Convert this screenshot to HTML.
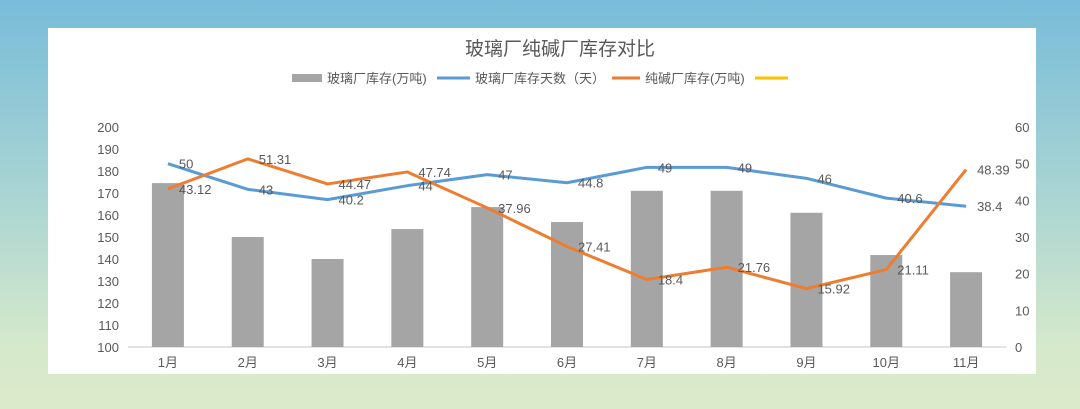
<!DOCTYPE html>
<html><head><meta charset="utf-8"><style>
html,body{margin:0;padding:0}
body{width:1080px;height:409px;overflow:hidden;background:linear-gradient(180deg,#78bcd9 0%,#a6d3d3 45%,#d6e9cb 85%,#dbeacb 100%);font-family:"Liberation Sans","Noto Sans CJK SC",sans-serif}
#panel{position:absolute;left:48px;top:28px;width:988px;height:346px;background:#fff}
svg text{font-family:"Liberation Sans","Noto Sans CJK SC",sans-serif;fill:#595959}
</style></head><body>
<div id="panel"></div>
<svg id="chart" width="1080" height="409" style="position:absolute;left:0;top:0">
<text x="560" y="55" font-size="19" text-anchor="middle">玻璃厂纯碱厂库存对比</text>
<g>
<rect x="292" y="74" width="30" height="8" fill="#a5a5a5"/>
<text x="327" y="83" font-size="13">玻璃厂库存(万吨)</text>
<line x1="437" y1="78" x2="470" y2="78" stroke="#5b9bd5" stroke-width="3"/>
<text x="475" y="83" font-size="13">玻璃厂库存天数（天）</text>
<line x1="612" y1="78" x2="640" y2="78" stroke="#ed7d31" stroke-width="3"/>
<text x="645" y="83" font-size="13">纯碱厂库存(万吨)</text>
<line x1="755" y1="78" x2="788" y2="78" stroke="#ffc000" stroke-width="3"/>
</g>
<g id="axes"></g><g id="bars"></g><g id="lines"></g><g id="labels"></g>
</svg>
<script>
const categories=["1月","2月","3月","4月","5月","6月","7月","8月","9月","10月","11月"];
const glassInventory=[174.5,150,140,153.6,163.6,156.8,171,171,161,141.8,134];
const glassDays=[50,43,40.2,44,47,44.8,49,49,46,40.6,38.4];
const sodaInventory=[43.12,51.31,44.47,47.74,37.96,27.41,18.4,21.76,15.92,21.11,48.39];
const leftTicks=[100,110,120,130,140,150,160,170,180,190,200];
const rightTicks=[0,10,20,30,40,50,60];
const NS="http://www.w3.org/2000/svg";
const top0=127,bot=347,x0=128,x1=1006;
const band=(x1-x0)/categories.length;
const xc=i=>x0+band*(i+0.5);
const yL=v=>bot-(v-100)/100*(bot-top0);
const yR=v=>bot-v/60*(bot-top0);
function mk(tag,attrs,parent,txt){const e=document.createElementNS(NS,tag);for(const k in attrs)e.setAttribute(k,attrs[k]);if(txt!==undefined)e.textContent=txt;document.getElementById(parent).appendChild(e);return e;}
const ax=mk('line',{x1:x0,x2:x1,y1:bot,y2:bot,stroke:'#d9d9d9','stroke-width':1.5},'axes');


leftTicks.forEach(v=>{const t=mk('text',{x:119,y:yL(v)+5,'font-size':13,'text-anchor':'end'},'axes',v);

});
rightTicks.forEach(v=>{const t=mk('text',{x:1015,y:yR(v)+5,'font-size':13},'axes',v);

});
categories.forEach((c,i)=>{const t=mk('text',{x:xc(i),y:367,'font-size':13,'text-anchor':'middle'},'axes',c);

});
glassInventory.forEach((v,i)=>{const r=mk('rect',{x:xc(i)-16,y:yL(v),width:32,height:bot-yL(v),fill:'#a5a5a5'},'bars');

});
function line(arr,color,name){const p=mk('polyline',{points:arr.map((v,i)=>xc(i)+','+yR(v)).join(' '),fill:'none',stroke:color,'stroke-width':3,'stroke-linejoin':'round'},'lines');

}
line(glassDays,'#5b9bd5','glass-days-line');
line(sodaInventory,'#ed7d31','soda-inventory-line');
glassDays.forEach((v,i)=>{const t=mk('text',{x:xc(i)+11,y:yR(v)+5,'font-size':13},'labels',v);

});
sodaInventory.forEach((v,i)=>{const t=mk('text',{x:xc(i)+11,y:yR(v)+5,'font-size':13},'labels',v);

});
</script>
</body></html>
